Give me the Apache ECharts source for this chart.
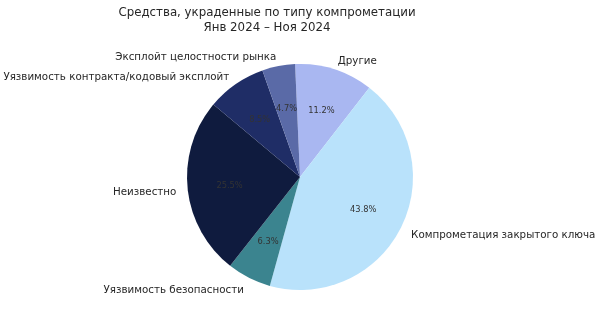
<!DOCTYPE html>
<html>
<head>
<meta charset="utf-8">
<script src="https://cdn.jsdelivr.net/npm/echarts@6/dist/echarts.min.js"></script>
<style>
  html, body { margin: 0; padding: 0; background: #fff; }
  #chart { width: 601px; height: 326px; }
</style>
</head>
<body>
<div id="chart"></div>
<script>
// Stolen funds by compromise type, Jan–Nov 2024 (share, %)
const categories = [
  'Другие',
  'Компрометация закрытого ключа',
  'Уязвимость безопасности',
  'Неизвестно',
  'Уязвимость контракта/кодовый эксплойт',
  'Эксплойт целостности рынка'
];
const shares = [11.2, 43.8, 6.3, 25.5, 8.5, 4.7];
const sliceColors = ['#a9b7f1', '#b9e2fb', '#3b848f', '#0f1b3e', '#1f2d66', '#5a6aa7'];
const titleLines = ['Средства, украденные по типу компрометации', 'Янв 2024 – Ноя 2024'];

const FONT = 'DejaVu Sans';
const cx = 300, cy = 177, R = 113;

const pieData = categories.map((name, i) => ({
  name: name,
  value: shares[i],
  itemStyle: { color: sliceColors[i] }
}));

const chart = echarts.init(document.getElementById('chart'), null, { renderer: 'canvas' });
chart.setOption({
  animation: false,
  backgroundColor: '#ffffff',
  title: {
    text: titleLines.join('\n'),
    left: 262,
    top: 0,
    textAlign: 'center',
    textStyle: {
      fontFamily: FONT,
      fontSize: 11.8,
      fontWeight: 'normal',
      color: '#262626',
      lineHeight: 15
    }
  },
  series: [
    {
      // wedges with category names outside the rim (at 1.1 R)
      type: 'pie',
      center: [cx, cy],
      radius: [0, R],
      startAngle: 92.5,
      clockwise: true,
      avoidLabelOverlap: false,
      silent: true,
      data: pieData,
      label: {
        show: true,
        position: 'outside',
        alignTo: 'none',
        distanceToLabelLine: 0,
        overflow: 'none',
        formatter: '{b}',
        fontFamily: FONT,
        fontSize: 10.3,
        color: '#262626'
      },
      labelLine: { show: false, length: 0.1 * R, length2: 0 },
      labelLayout: { dy: 2.5 }
    },
    {
      // transparent overlay carrying the percentage labels at 0.6 R
      type: 'pie',
      center: [cx, cy],
      radius: [0.2 * R, R],
      startAngle: 92.5,
      clockwise: true,
      avoidLabelOverlap: false,
      silent: true,
      data: categories.map((name, i) => ({ name: name, value: shares[i] })),
      itemStyle: { color: 'rgba(0,0,0,0)' },
      label: {
        show: true,
        position: 'inside',
        formatter: p => p.value.toFixed(1) + '%',
        fontFamily: FONT,
        fontSize: 8.3,
        color: '#333333'
      },
      labelLine: { show: false },
      labelLayout: { dy: 1.5 }
    }
  ]
});
</script>
</body>
</html>
